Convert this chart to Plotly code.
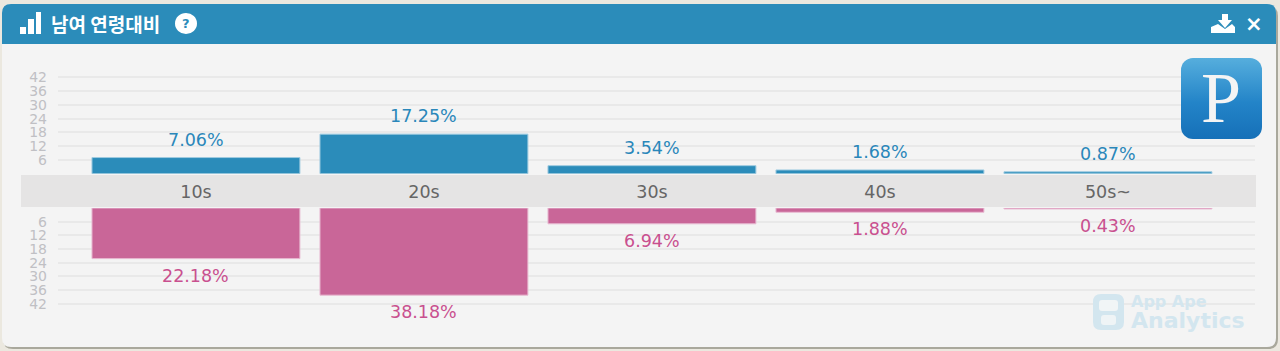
import base64
import plotly.graph_objects as go

categories = ["10s", "20s", "30s", "40s", "50s~"]
male_values = [7.06, 17.25, 3.54, 1.68, 0.87]
female_values = [22.18, 38.18, 6.94, 1.88, 0.43]
tick_values = [6, 12, 18, 24, 30, 36, 42]
title_text = "남여 연령대비"

W, H = 1280, 351
BLUE = "#2b8cba"
PINK = "#c96698"
BLUE_TXT = "#2a87ba"
PINK_TXT = "#c9508f"
FONT = "DejaVu Sans"


def px(v):
    return v / W


def py(v):
    return 1 - v / H


def rrect(x0, y0, x1, y1, tl, tr, br, bl):
    return (f"M{px(x0 + tl)},{py(y0)} L{px(x1 - tr)},{py(y0)} "
            f"Q{px(x1)},{py(y0)} {px(x1)},{py(y0 + tr)} "
            f"L{px(x1)},{py(y1 - br)} Q{px(x1)},{py(y1)} {px(x1 - br)},{py(y1)} "
            f"L{px(x0 + bl)},{py(y1)} Q{px(x0)},{py(y1)} {px(x0)},{py(y1 - bl)} "
            f"L{px(x0)},{py(y0 + tl)} Q{px(x0)},{py(y0)} {px(x0 + tl)},{py(y0)} Z")


def paper_path(d, fill, line=None, width=0, layer="below"):
    return dict(type="path", xref="paper", yref="paper", path=d, fillcolor=fill,
                line=dict(color=line or fill, width=width), layer=layer)


def paper_rect(x0, y0, x1, y1, fill, layer="below"):
    return dict(type="rect", xref="paper", yref="paper", x0=px(x0), x1=px(x1),
                y0=py(y1), y1=py(y0), fillcolor=fill, line=dict(width=0), layer=layer)


def note(x, y, text, size, color, anchor="center", family=FONT):
    return dict(xref="paper", yref="paper", x=px(x), y=py(y), text=text, showarrow=False,
                xanchor=anchor, yanchor="middle", align="left", font=dict(size=size, color=color, family=family))


shapes = [
    # card shadow, card, header, category band
    paper_path(rrect(3, 6, 1278, 349, 10, 10, 10, 10), "#a9a89c"),
    paper_path(rrect(2, 4, 1276, 347, 9, 9, 9, 9), "#f4f4f4"),
    paper_path(rrect(2, 4, 1276, 44, 9, 9, 0, 0), BLUE),
    paper_rect(21, 175, 1256, 207, "#e5e4e4"),
    # signal icon
    paper_rect(20, 27, 26, 34, "#ffffff", "above"),
    paper_rect(28, 19, 34, 34, "#ffffff", "above"),
    paper_rect(36, 12, 41, 34, "#ffffff", "above"),
    # help circle
    dict(type="circle", xref="paper", yref="paper", x0=px(175), x1=px(197), y0=py(34), y1=py(13),
         fillcolor="#ffffff", line=dict(width=0), layer="above"),
    # download icon
    paper_path(f"M{px(1211)},{py(33)} L{px(1211)},{py(27)} L{px(1218)},{py(24)} L{px(1225)},{py(29)} "
               f"L{px(1232)},{py(24)} L{px(1235)},{py(27)} L{px(1235)},{py(33)} Z", "#ffffff", layer="above"),
    paper_path(f"M{px(1222)},{py(14)} L{px(1228)},{py(14)} L{px(1228)},{py(20)} L{px(1232)},{py(20)} "
               f"L{px(1225)},{py(28)} L{px(1218)},{py(20)} L{px(1222)},{py(20)} Z", "#ffffff", layer="above"),
    # watermark monkey
    paper_path(rrect(1093, 294, 1124, 330, 8, 8, 8, 8), "#d3e6ef", layer="above"),
    paper_path(rrect(1099, 300, 1118, 311, 3, 3, 3, 3), "#f1f5f6", layer="above"),
    paper_path(rrect(1101, 315, 1116, 325, 3, 3, 3, 3), "#eff4f6", layer="above"),
]

svg = ('<svg xmlns="http://www.w3.org/2000/svg" width="81" height="81">'
       '<defs><linearGradient id="g" x1="0" y1="0" x2="0" y2="1">'
       '<stop offset="0" stop-color="#56aedd"/><stop offset="0.55" stop-color="#2384c8"/>'
       '<stop offset="1" stop-color="#1670b8"/></linearGradient></defs>'
       '<rect width="81" height="81" rx="12" fill="url(#g)"/></svg>')
logo = "data:image/svg+xml;base64," + base64.b64encode(svg.encode()).decode()

annotations = [
    note(49, 24, f"<b>{title_text}</b>", 19, "#ffffff", "left", "Noto Sans CJK KR"),
    note(186, 24, "<b>?</b>", 13, BLUE),
    note(1254, 24, "<b>×</b>", 21, "#ffffff"),
    note(1221, 98, "P", 72, "#f4f4f4", family="Liberation Serif"),
    note(1129, 312, '<b>App Ape</b><br><b><span style="font-size:22px">Analytics</span></b>', 16, "#d3e6ef", "left"),
]
for c, v in zip(categories, male_values):
    annotations.append(dict(xref="x", yref="y", x=c, y=v, text=f"{v:.2f}%", showarrow=False,
                            yanchor="bottom", yshift=6, font=dict(size=17.5, color=BLUE_TXT, family=FONT)))
for c, v in zip(categories, female_values):
    annotations.append(dict(xref="x2", yref="y2", x=c, y=v, text=f"{v:.2f}%", showarrow=False,
                            yanchor="top", yshift=-5, font=dict(size=17.5, color=PINK_TXT, family=FONT)))

fig = go.Figure()
fig.add_bar(x=categories, y=male_values, xaxis="x", yaxis="y", width=0.912, hoverinfo="skip",
            marker=dict(color=BLUE, line=dict(color="#9fcbe0", width=1)))
fig.add_bar(x=categories, y=female_values, xaxis="x2", yaxis="y2", width=0.912, hoverinfo="skip",
            marker=dict(color=PINK, line=dict(color="#e8bcd3", width=1)))

x_domain = [58 / W, 1255 / W]
x_range = [-0.605, 4.645]
y_style = dict(tickvals=tick_values, showgrid=True, gridcolor="#e9e9e9", gridwidth=1.5, zeroline=False,
               showline=False, ticks="", ticklabelstandoff=10,
               tickfont=dict(size=14, color="#c0c0c4", family=FONT), fixedrange=True)

fig.update_layout(
    width=W, height=H, autosize=False,
    margin=dict(l=0, r=0, t=0, b=0),
    paper_bgcolor="#ebe8df", plot_bgcolor="rgba(0,0,0,0)",
    showlegend=False, barmode="overlay", shapes=shapes, annotations=annotations,
    images=[dict(source=logo, xref="paper", yref="paper", x=px(1181), y=py(58), sizex=px(81), sizey=81 / H,
                 xanchor="left", yanchor="top", sizing="stretch", layer="above")],
    xaxis=dict(domain=x_domain, range=x_range, type="category", categoryorder="array", categoryarray=categories,
               anchor="y", showgrid=False, showline=False, zeroline=False, ticks="", ticklabelstandoff=6,
               tickfont=dict(size=17.5, color="#666666", family=FONT), fixedrange=True),
    xaxis2=dict(domain=x_domain, range=x_range, type="category", categoryorder="array", categoryarray=categories,
                anchor="y2", showgrid=False, showline=False, zeroline=False, showticklabels=False, ticks="",
                fixedrange=True),
    yaxis=dict(domain=[py(173.8), py(68)], range=[0, 46], anchor="x", **y_style),
    yaxis2=dict(domain=[py(313), py(208)], range=[46, 0], anchor="x2", **y_style),
)
fig.write_html("out.html", config=dict(displayModeBar=False),
               post_script="document.body.style.margin='0';document.documentElement.style.overflow='hidden';")
